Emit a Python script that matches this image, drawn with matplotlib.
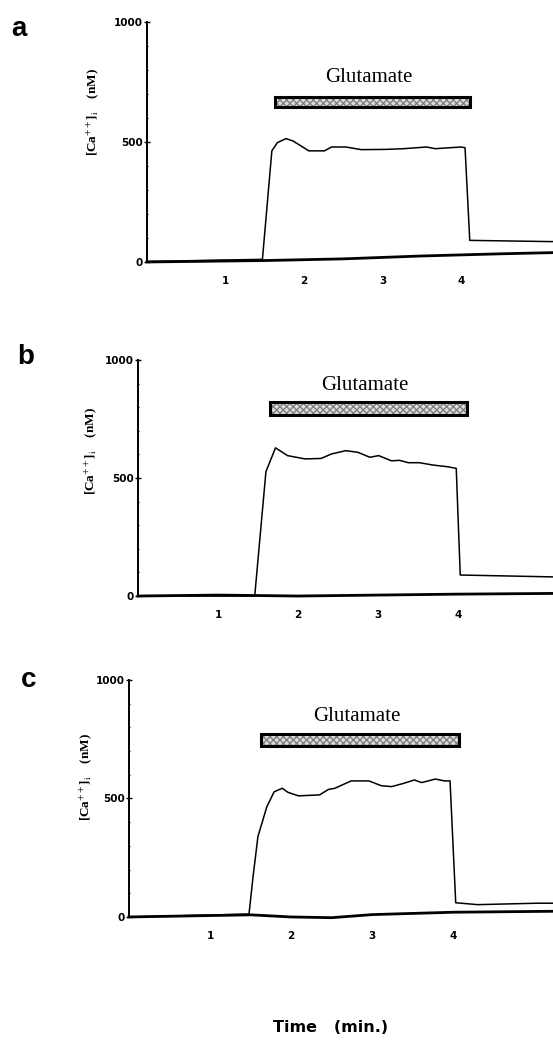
import numpy as np
import matplotlib.pyplot as plt
from matplotlib.patches import Rectangle

plt.rcParams['mathtext.fontset'] = 'stix'

# traces: time (min) and [Ca++]i (nM)
ta = [0.0, 1.47, 1.59, 1.66, 1.77, 1.86, 2.06, 2.26, 2.35, 2.53, 2.73, 3.04, 3.27, 3.56, 3.67, 4.0, 4.05, 4.11, 5.12, 5.17]
ca_a = [2, 11, 463, 497, 514, 504, 463, 463, 479, 479, 468, 469, 472, 479, 472, 479, 476, 90, 85, 85]

tb = [0.0, 1.46, 1.60, 1.72, 1.87, 2.09, 2.29, 2.42, 2.60, 2.75, 2.90, 3.01, 3.17, 3.27, 3.38, 3.52, 3.69, 3.87, 3.98, 4.03, 5.05, 5.19]
ca_b = [0, 0, 527, 628, 595, 581, 583, 602, 616, 609, 588, 595, 573, 575, 565, 565, 555, 548, 541, 89, 82, 81]

tc = [0.0, 1.48, 1.53, 1.59, 1.70, 1.79, 1.89, 1.96, 2.09, 2.35, 2.46, 2.54, 2.74, 2.96, 3.11, 3.24, 3.39, 3.52, 3.61, 3.78, 3.89, 3.96, 4.03, 4.3, 5.03, 5.23]
ca_c = [0, 12, 170, 339, 465, 528, 543, 526, 511, 515, 538, 543, 574, 574, 554, 550, 564, 578, 567, 582, 574, 574, 60, 52, 58, 58]

# baseline (bottom) traces
tbase_a = [0.0, 1.5, 2.5, 3.5, 4.5, 5.17]
base_a = [0, 6, 13, 25, 34, 39]
tbase_b = [0.0, 1.0, 2.0, 3.0, 4.0, 5.19]
base_b = [0, 4, 0, 4, 8, 11]
tbase_c = [0.0, 1.0, 1.5, 2.0, 2.5, 3.0, 4.0, 5.23]
base_c = [0, 6, 9, 0, -3, 10, 20, 24]

# glutamate application (min)
glu_on = [1.63, 1.65, 1.63]
glu_off = [4.11, 4.11, 4.07]

panels = ['a', 'b', 'c']
xticks = [1, 2, 3, 4]
yticks = [0, 500, 1000]

fig = plt.figure(figsize=(5.53, 10.40), dpi=100)

# axes boxes in figure fraction, x limits, bar / text placement
boxes = [[0.2658, 0.7481, 0.7342, 0.2308],
         [0.2495, 0.4269, 0.7505, 0.2269],
         [0.2333, 0.1183, 0.7667, 0.2279]]
xmax = [5.17, 5.19, 5.23]
bar_y = [(646, 687), (767, 822), (721, 772)]
txt_y = [767, 894, 844]
txt_x = [2.82, 2.84, 2.81]
lab_pos = [(0.034, 0.985), (0.047, 0.669), (0.051, 0.359)]
ylab_off = [-54, -47, -43]
ylab_y = [0.625, 0.615, 0.59]

data = [(ta, ca_a, tbase_a, base_a), (tb, ca_b, tbase_b, base_b), (tc, ca_c, tbase_c, base_c)]

for i in range(3):
    ax = fig.add_axes(boxes[i])
    t, ca, tb0, b0 = data[i]
    ax.plot(t, ca, 'k', linewidth=1.1, clip_on=False)
    ax.plot(tb0, b0, 'k', linewidth=2.0, clip_on=False)
    ax.set_xlim(0, xmax[i])
    ax.set_ylim(0, 1000)

    for s in ['top', 'right', 'bottom']:
        ax.spines[s].set_visible(False)
    ax.spines['left'].set_linewidth(1.4)

    ax.set_xticks(xticks)
    ax.set_xticklabels([str(v) for v in xticks], fontsize=7.5, fontweight='bold', family='DejaVu Sans')
    ax.tick_params(axis='x', length=0, pad=10)
    ax.set_yticks(yticks)
    ax.set_yticklabels([str(v) for v in yticks], fontsize=7.5, fontweight='bold', family='DejaVu Sans')
    ax.set_yticks(np.arange(100, 1000, 100), minor=True)
    ax.tick_params(axis='y', which='major', direction='inout', length=4, width=1, pad=1)
    ax.tick_params(axis='y', which='minor', direction='inout', length=2, width=0.8)

    # glutamate bar
    y0, y1 = bar_y[i]
    ax.add_patch(Rectangle((glu_on[i], y0), glu_off[i] - glu_on[i], y1 - y0,
                           facecolor='#dedede', edgecolor='#808080', hatch='xxxxx', linewidth=0))
    ax.add_patch(Rectangle((glu_on[i], y0), glu_off[i] - glu_on[i], y1 - y0,
                           facecolor='none', edgecolor='k', linewidth=2.2))
    ax.text(txt_x[i], txt_y[i], 'Glutamate', ha='center', va='center',
            fontsize=15, family='Liberation Serif')

    ax.annotate(r'[Ca$^{++}$]$_{\rm i}$    (nM)', xy=(0, ylab_y[i]), xycoords='axes fraction',
                xytext=(ylab_off[i], 0), textcoords='offset pixels', rotation=90,
                ha='center', va='center', fontsize=9.5, family='Liberation Serif',
                fontweight='bold')

    fig.text(lab_pos[i][0], lab_pos[i][1], panels[i], fontsize=20, fontweight='bold',
             family='Liberation Sans', ha='center', va='top')

fig.text(331 / 553, 1 - 1028 / 1040, 'Time   (min.)', ha='center', va='center',
         fontsize=11.5, fontweight='bold', family='DejaVu Sans')

fig.savefig('out.png', dpi=100)
